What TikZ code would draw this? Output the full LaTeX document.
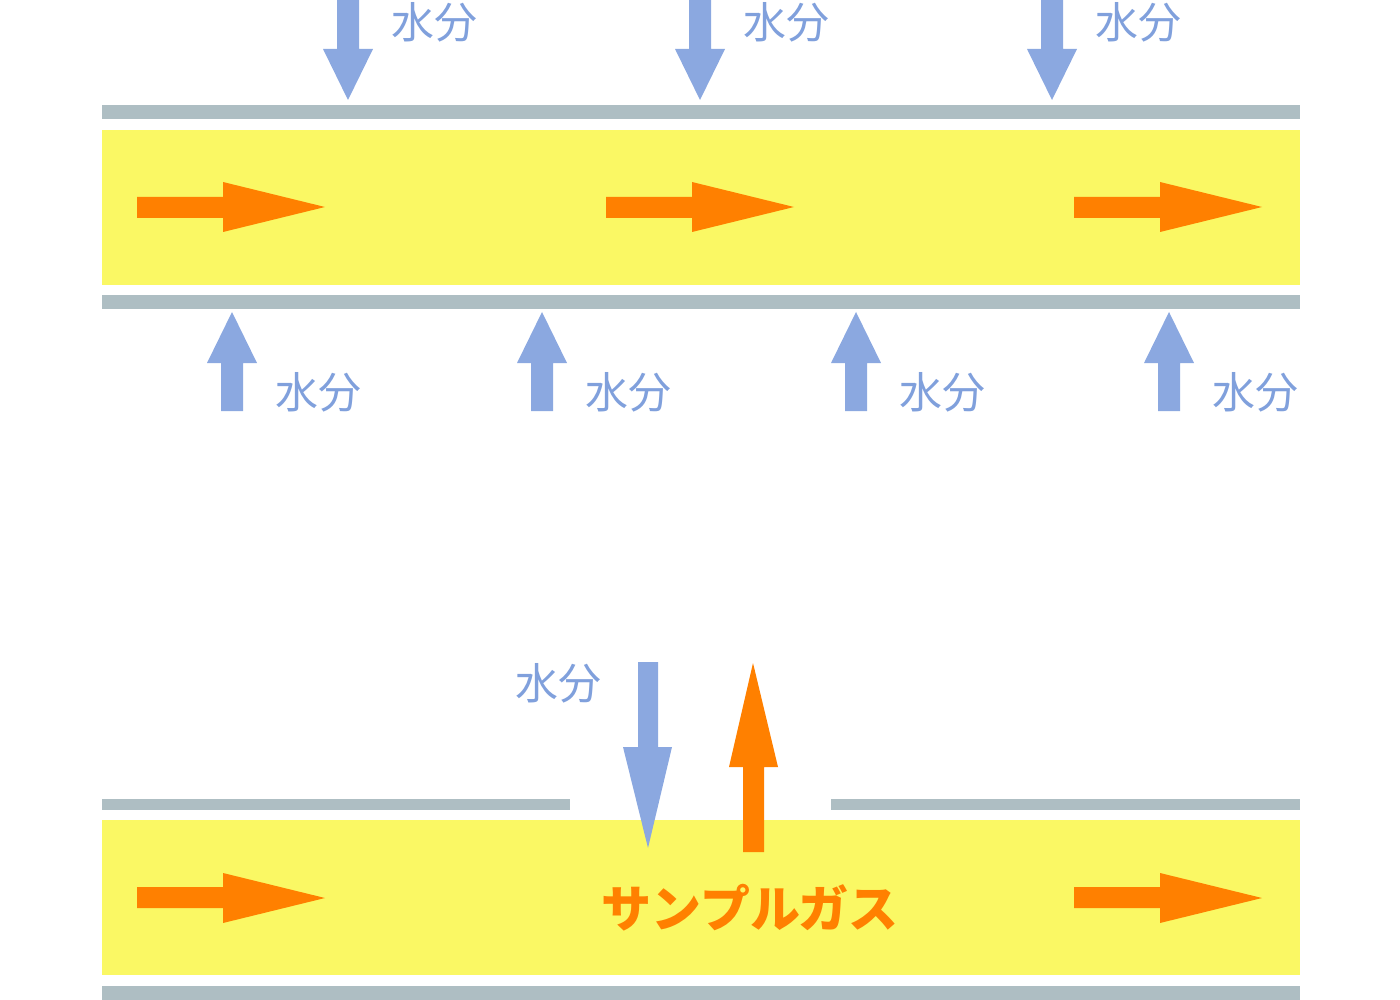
\documentclass[tikz,border=0pt]{standalone}
\usepackage{fontspec}
\newfontfamily\cjk{Noto Sans CJK JP}
\definecolor{barc}{RGB}{174,190,195}
\definecolor{bluec}{RGB}{139,168,224}
\definecolor{bluetext}{RGB}{128,160,220}
\definecolor{orangec}{RGB}{255,128,0}
\definecolor{yellowc}{RGB}{250,248,100}
\tikzset{
  bar/.style={fill=barc},
  band/.style={fill=yellowc},
  bluearrow/.style={fill=bluec},
  orangearrow/.style={fill=orangec},
  waterlabel/.style={text=bluetext, font=\cjk\fontsize{43}{43}\selectfont, inner sep=0pt, anchor=west},
  gaslabel/.style={text=orangec, font=\cjk\bfseries\fontsize{50}{50}\selectfont, inner sep=0pt},
}
\begin{document}
\begin{tikzpicture}[x=1pt,y=-1pt]
\useasboundingbox (0,0) rectangle (1400,1000);
% ---------- top section ----------
\fill[bar] (102,105) rectangle (1300,119);
\fill[band] (102,130) rectangle (1300,285);
\fill[bar] (102,295) rectangle (1300,309);
% orange flow arrows
\foreach \s in {137,606,1074}{
  \fill[orangearrow] (\s,197) -- (\s+86,197) -- (\s+86,182) -- (\s+188,207) -- (\s+86,232) -- (\s+86,218) -- (\s,218) -- cycle;
}
% blue down arrows
\foreach \c/\n in {348/a,700/b,1052/c}{
  \fill[bluearrow] (\c-11,0) -- (\c+11,0) -- (\c+11,49) -- (\c+25,49) -- (\c,100) -- (\c-25,49) -- (\c-11,49) -- cycle;
  \node[waterlabel] (wt\n) at (\c+43,22) {水分};
}
% blue up arrows
\foreach \c/\n in {232/a,542/b,856/c,1169/d}{
  \fill[bluearrow] (\c-11,411) -- (\c+11,411) -- (\c+11,363) -- (\c+25,363) -- (\c,312) -- (\c-25,363) -- (\c-11,363) -- cycle;
  \node[waterlabel] (wb\n) at (\c+43,392) {水分};
}
% ---------- bottom section ----------
\fill[bar] (102,799) rectangle (570,810);
\fill[bar] (831,799) rectangle (1300,810);
\fill[band] (102,820) rectangle (1300,975);
\fill[bar] (102,986) rectangle (1300,1000);
\foreach \s in {137,1074}{
  \fill[orangearrow] (\s,887) -- (\s+86,887) -- (\s+86,873) -- (\s+188,898) -- (\s+86,923) -- (\s+86,908) -- (\s,908) -- cycle;
}
% blue down arrow into gap
\fill[bluearrow] (638,662) -- (658,662) -- (658,747) -- (672,747) -- (648,848) -- (623,747) -- (638,747) -- cycle;
\node[waterlabel] (wgap) at (515,683) {水分};
% orange up arrow out of gap
\fill[orangearrow] (743,852) -- (764,852) -- (764,767) -- (778,767) -- (753,663) -- (729,767) -- (743,767) -- cycle;
\node[gaslabel] (gas) at (750,908) {サンプルガス};
\end{tikzpicture}
\end{document}
